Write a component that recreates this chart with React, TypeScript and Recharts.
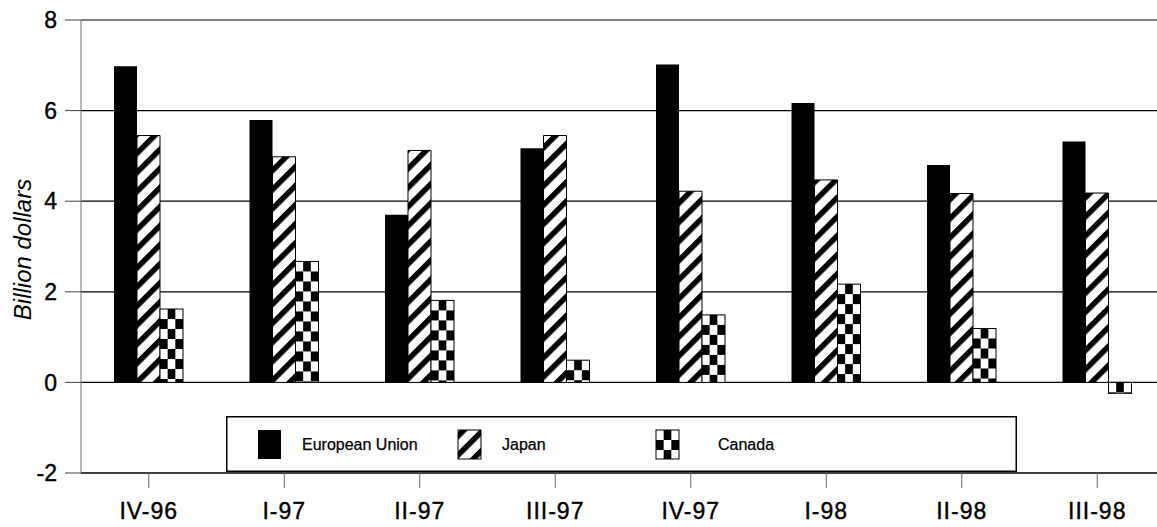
import React from "react";
import {
  BarChart,
  Bar,
  XAxis,
  YAxis,
  CartesianGrid,
  Legend,
} from "recharts";

const quarters = ["IV-96", "I-97", "II-97", "III-97", "IV-97", "I-98", "II-98", "III-98"];
const euValues = [6.98, 5.79, 3.7, 5.17, 7.02, 6.17, 4.8, 5.32];
const japanValues = [5.45, 4.98, 5.12, 5.45, 4.22, 4.47, 4.17, 4.18];
const canadaValues = [1.62, 2.67, 1.81, 0.49, 1.49, 2.17, 1.19, -0.24];
const yTicks = [-2, 0, 2, 4, 6, 8];

const data = quarters.map((q, i) => ({
  quarter: q,
  eu: euValues[i],
  japan: japanValues[i],
  canada: canadaValues[i],
}));

const FONT = "'Liberation Sans', Arial, sans-serif";

// checkerboard fill drawn cell by cell so every bar starts its own grid
function CheckerBar(props: any) {
  const { x, y, width, height } = props;
  if (width == null || height == null) return null;
  const top = Math.min(y, y + height);
  const h = Math.abs(height);
  const cols = 3;
  const cw = width / cols;
  const ch = 10;
  const rows = Math.ceil(h / ch);
  const cells = [];
  for (let r = 0; r < rows; r++) {
    for (let c = 0; c < cols; c++) {
      if ((r + c) % 2 === 1) {
        cells.push(
          <rect
            key={`${r}-${c}`}
            x={x + c * cw}
            y={top + r * ch}
            width={cw}
            height={Math.min(ch, h - r * ch)}
            fill="#000"
          />
        );
      }
    }
  }
  return (
    <g>
      <rect x={x} y={top} width={width} height={h} fill="#fff" />
      {cells}
      <rect x={x} y={top} width={width} height={h} fill="none" stroke="#000" strokeWidth={1} />
    </g>
  );
}

function StripeDefs({ id }: { id: string }) {
  return (
    <defs>
      <pattern
        id={id}
        patternUnits="userSpaceOnUse"
        width={13.5}
        height={13.5}
        patternTransform="rotate(45)"
      >
        <rect width={13.5} height={13.5} fill="#fff" />
        <rect width={5.5} height={13.5} fill="#000" />
      </pattern>
    </defs>
  );
}

function LegendBox() {
  const items = [
    { label: "European Union", sx: 32, tx: 76, kind: "solid" },
    { label: "Japan", sx: 232, tx: 276, kind: "stripe" },
    { label: "Canada", sx: 430, tx: 492, kind: "checker" },
  ];
  return (
    <svg width={791} height={56} style={{ display: "block" }}>
      <StripeDefs id="legendStripe" />
      <rect x={0.75} y={0.75} width={789.5} height={54.5} fill="#fff" stroke="#000" strokeWidth={1.5} />
      {items.map((it) => (
        <g key={it.label}>
          {it.kind === "solid" && <rect x={it.sx} y={14} width={23} height={29} fill="#000" />}
          {it.kind === "stripe" && (
            <rect x={it.sx} y={14} width={23} height={29} fill="url(#legendStripe)" stroke="#000" />
          )}
          {it.kind === "checker" && <CheckerBar x={it.sx} y={14} width={23} height={29} />}
          <text
            x={it.tx}
            y={34}
            fontSize={16}
            fontFamily={FONT}
            fill="#000"
            stroke="#000"
            strokeWidth={0.25}
          >
            {it.label}
          </text>
        </g>
      ))}
    </svg>
  );
}

export default function App() {
  return (
    <div
      style={{
        position: "absolute",
        left: 0,
        top: 0,
        width: 1157,
        height: 527,
        overflow: "hidden",
        background: "#fff",
      }}
    >
      <BarChart
        width={1200}
        height={527}
        data={data}
        margin={{ top: 20, right: 35, bottom: 0, left: 0 }}
        barGap={0}
        barSize={23}
      >
        <StripeDefs id="japanStripe" />
        <CartesianGrid vertical={false} stroke="#000" strokeWidth={1.2} />
        <XAxis
          dataKey="quarter"
          height={54}
          tickSize={15}
          tickMargin={15}
          axisLine={{ stroke: "#000", strokeWidth: 1.2 }}
          tickLine={{ stroke: "#666" }}
          tick={{
            fontSize: 23,
            fontFamily: FONT,
            fill: "#000",
            stroke: "#000",
            strokeWidth: 0.4,
            letterSpacing: 1,
          }}
          interval={0}
        />
        <YAxis
          width={81}
          domain={[-2, 8]}
          ticks={yTicks}
          tickSize={16}
          tickMargin={8}
          axisLine={{ stroke: "#777" }}
          tickLine={{ stroke: "#444" }}
          tick={{ fontSize: 23, fontFamily: FONT, fill: "#000", stroke: "#000", strokeWidth: 0.4 }}
          label={{
            content: ({ viewBox }: any) => {
              const cy = viewBox.y + viewBox.height / 2 + 3;
              return (
                <text
                  x={22}
                  y={cy}
                  transform={`rotate(-90 22 ${cy})`}
                  textAnchor="middle"
                  dominantBaseline="central"
                  fontSize={24}
                  fontStyle="italic"
                  fontFamily={FONT}
                  fill="#000"
                >
                  Billion dollars
                </text>
              );
            },
          }}
        />
        <Legend
          layout="horizontal"
          verticalAlign="middle"
          align="center"
          wrapperStyle={{ left: 226, top: 416, width: 791, height: 56 }}
          content={() => <LegendBox />}
        />
        <Bar dataKey="eu" name="European Union" fill="#000" isAnimationActive={false} />
        <Bar
          dataKey="japan"
          name="Japan"
          fill="url(#japanStripe)"
          stroke="#000"
          strokeWidth={1}
          isAnimationActive={false}
        />
        <Bar
          dataKey="canada"
          name="Canada"
          fill="#fff"
          shape={<CheckerBar />}
          isAnimationActive={false}
        />
      </BarChart>
    </div>
  );
}
